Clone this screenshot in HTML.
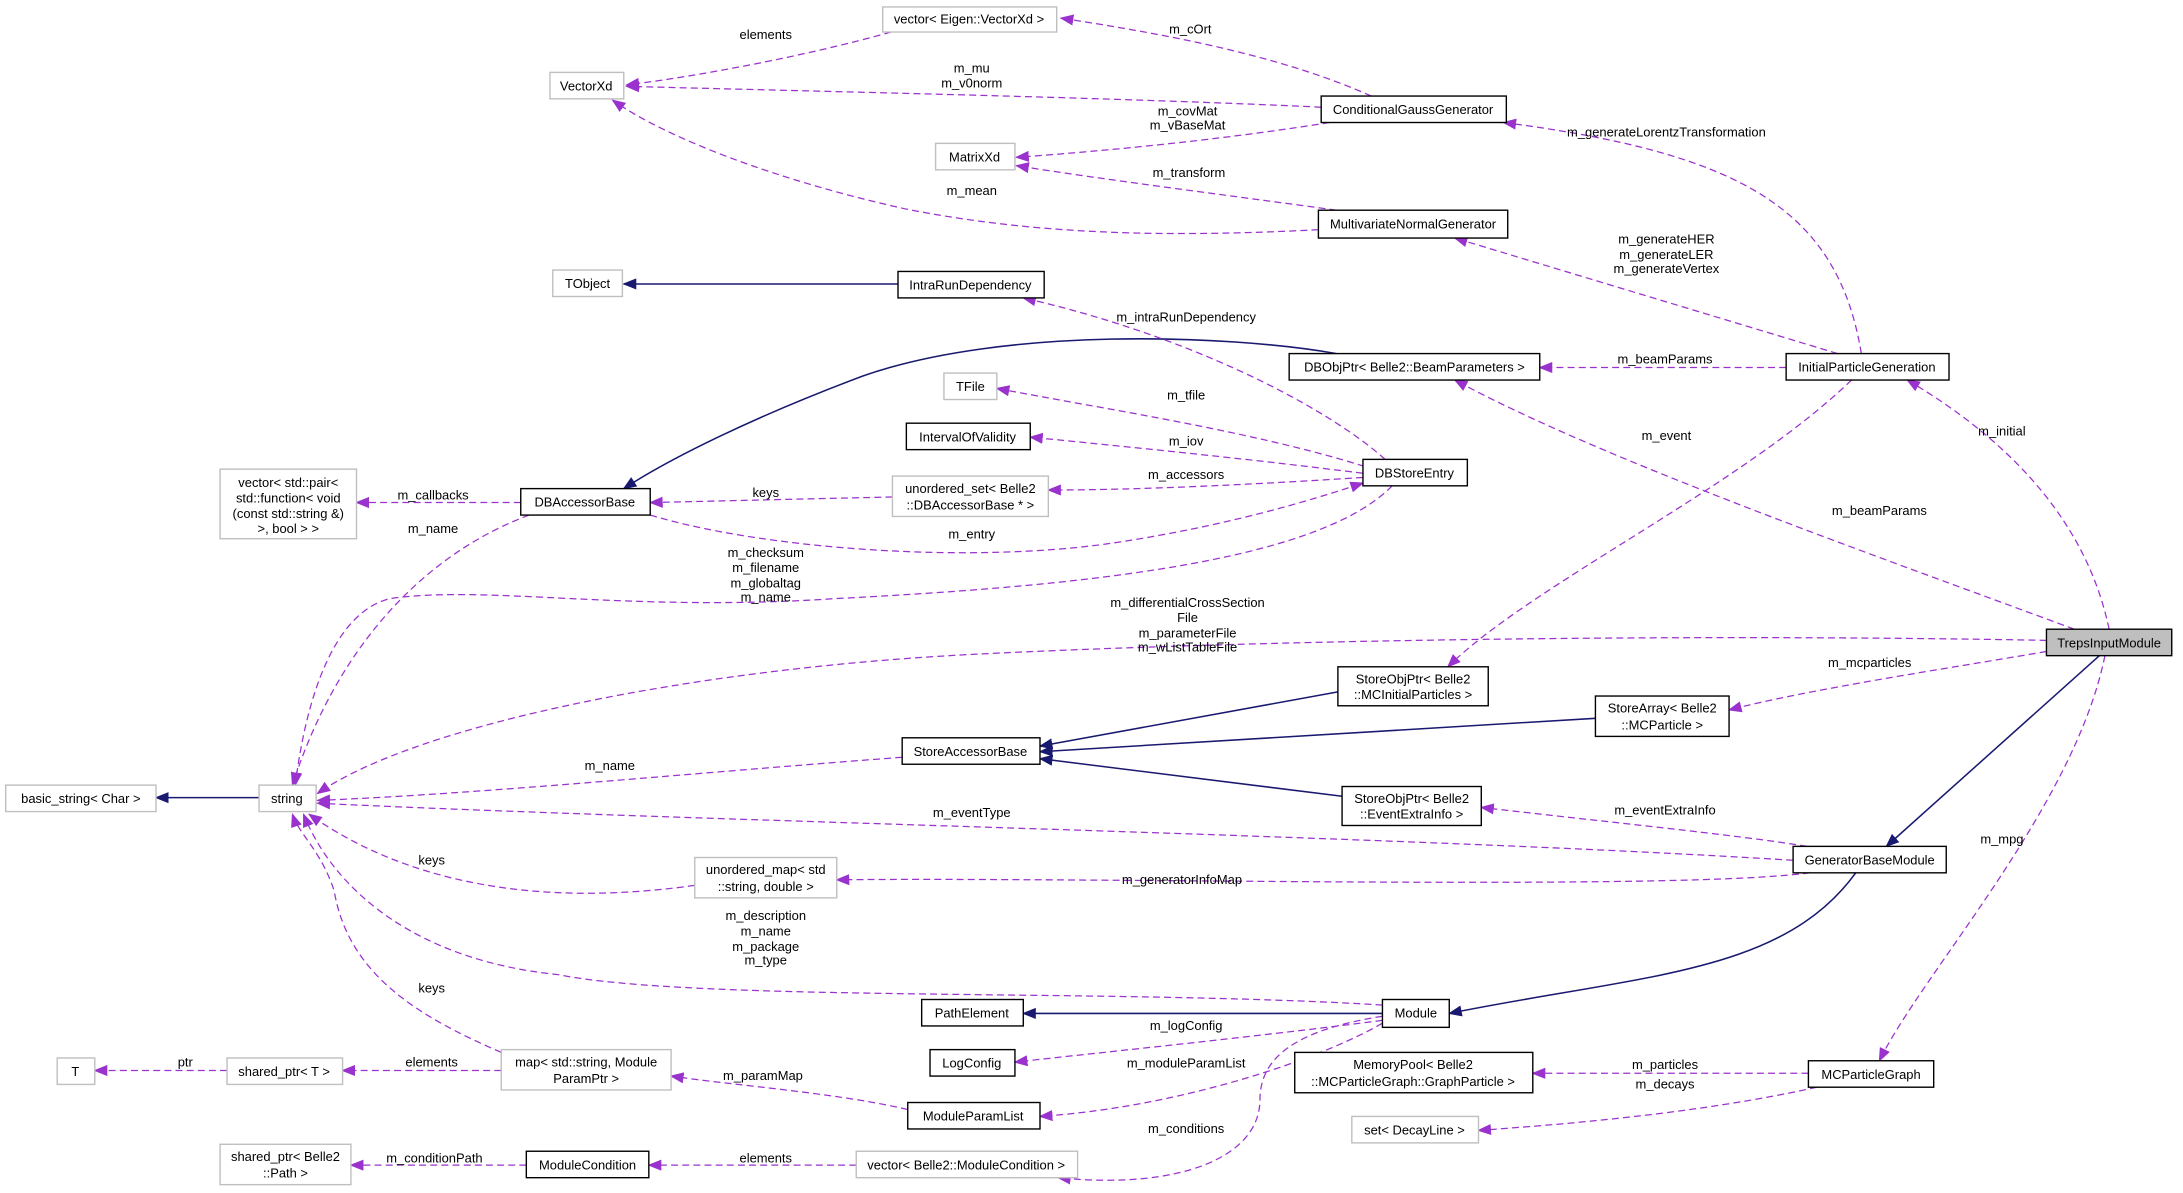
<!DOCTYPE html>
<html><head><meta charset="utf-8"><style>
html,body{margin:0;padding:0;background:#fff;}
svg{display:block;}
text{font-family:"Liberation Sans",sans-serif;font-size:9.3px;fill:#000;}
.e{fill:none;stroke:#9a32cd;stroke-width:0.9;stroke-dasharray:5,3;}
.n{fill:none;stroke:#191970;stroke-width:1.1;}
.b{fill:#fff;stroke:#000;stroke-width:1;}
.g{fill:#fff;stroke:#bfbfbf;stroke-width:1;}
</style></head><body>
<svg width="2183" height="1193" viewBox="0 0 1568 857" xmlns="http://www.w3.org/2000/svg">
<defs>
<marker id="p" markerWidth="10" markerHeight="8" refX="9" refY="4" orient="auto" markerUnits="userSpaceOnUse"><path d="M0,0 L10,4 L0,8 z" fill="#9a32cd"/></marker>
<marker id="v" markerWidth="10" markerHeight="8" refX="9" refY="4" orient="auto" markerUnits="userSpaceOnUse"><path d="M0,0 L10,4 L0,8 z" fill="#191970"/></marker>
</defs>
<g>
<path class="e" marker-end="url(#p)" d="M640 23 C580 40 500 55 450 61"/>
<path class="e" marker-end="url(#p)" d="M949 77 C800 70 600 66 450 62"/>
<path class="e" marker-end="url(#p)" d="M985 69 C920 40 840 25 762 13"/>
<path class="e" marker-end="url(#p)" d="M955 88 C880 100 800 108 730 113"/>
<path class="e" marker-end="url(#p)" d="M960 151 C880 140 800 130 730 119"/>
<path class="e" marker-end="url(#p)" d="M947 165 C850 170 750 170 650 150 C560 130 480 100 440 72"/>
<path class="n" marker-end="url(#v)" d="M645 204 L448 204"/>
<path class="n" marker-end="url(#v)" d="M960 254 C880 240 720 235 620 270 C540 300 480 330 448 351"/>
<path class="e" marker-end="url(#p)" d="M995 330 C950 290 850 240 735 214"/>
<path class="e" marker-end="url(#p)" d="M980 335 C900 310 800 295 716 279"/>
<path class="e" marker-end="url(#p)" d="M979 340 C900 330 820 322 740 314"/>
<path class="e" marker-end="url(#p)" d="M979 343 C900 348 820 352 753 352"/>
<path class="e" marker-end="url(#p)" d="M641 357 L467 361"/>
<path class="e" marker-end="url(#p)" d="M467 370 C550 395 700 405 800 390 C880 378 940 360 979 347"/>
<path class="e" marker-end="url(#p)" d="M374 361 L256 361"/>
<path class="e" marker-end="url(#p)" d="M380 370 C300 400 240 470 210 564"/>
<path class="e" marker-end="url(#p)" d="M1000 349 C950 400 800 420 600 430 C450 440 350 420 280 430 C240 440 220 500 212 564"/>
<path class="e" marker-end="url(#p)" d="M1337 254 C1320 150 1250 110 1080 88"/>
<path class="e" marker-end="url(#p)" d="M1320 254 L1045 171"/>
<path class="e" marker-end="url(#p)" d="M1283 264 L1106 264"/>
<path class="e" marker-end="url(#p)" d="M1330 273 C1250 350 1100 420 1040 479"/>
<path class="e" marker-end="url(#p)" d="M1490 452 C1350 400 1150 330 1045 273"/>
<path class="e" marker-end="url(#p)" d="M1515 452 C1500 380 1450 320 1370 273"/>
<path class="e" marker-end="url(#p)" d="M1470 460 C1200 455 900 460 700 470 C500 480 300 520 228 570"/>
<path class="e" marker-end="url(#p)" d="M1470 468 C1400 480 1300 495 1242 510"/>
<path class="n" marker-end="url(#v)" d="M1508 471 L1355 608"/>
<path class="e" marker-end="url(#p)" d="M1512 471 C1490 580 1380 700 1350 762"/>
<path class="n" marker-end="url(#v)" d="M961 497 L747 536"/>
<path class="n" marker-end="url(#v)" d="M1146 516 L747 540"/>
<path class="n" marker-end="url(#v)" d="M964 572 L747 545"/>
<path class="e" marker-end="url(#p)" d="M648 544 C500 555 350 570 228 575"/>
<path class="n" marker-end="url(#v)" d="M186 573 L112 573"/>
<path class="e" marker-end="url(#p)" d="M1298 608 C1250 600 1150 590 1064 580"/>
<path class="e" marker-end="url(#p)" d="M1288 618 C1000 600 500 590 228 577"/>
<path class="e" marker-end="url(#p)" d="M1300 627 C1200 640 800 630 601 632"/>
<path class="n" marker-end="url(#v)" d="M1333 627 C1280 700 1180 700 1041 728"/>
<path class="e" marker-end="url(#p)" d="M499 636 C400 650 300 640 222 585"/>
<path class="e" marker-end="url(#p)" d="M993 722 C800 710 500 720 400 700 C300 690 240 640 218 585"/>
<path class="n" marker-end="url(#v)" d="M993 728 L735 728"/>
<path class="e" marker-end="url(#p)" d="M993 733 C900 745 800 755 729 763"/>
<path class="e" marker-end="url(#p)" d="M993 735 C950 760 850 795 747 802"/>
<path class="e" marker-end="url(#p)" d="M993 730 C930 740 905 760 905 790 C905 830 850 855 760 846"/>
<path class="e" marker-end="url(#p)" d="M360 756 C300 730 250 700 240 640 C230 610 215 600 210 585"/>
<path class="e" marker-end="url(#p)" d="M360 769 L246 769"/>
<path class="e" marker-end="url(#p)" d="M163 769 L68 769"/>
<path class="e" marker-end="url(#p)" d="M652 797 C600 785 530 780 482 773"/>
<path class="e" marker-end="url(#p)" d="M615 837 L466 837"/>
<path class="e" marker-end="url(#p)" d="M378 837 L252 837"/>
<path class="e" marker-end="url(#p)" d="M1299 771 L1101 771"/>
<path class="e" marker-end="url(#p)" d="M1305 781 C1220 800 1120 808 1062 812"/>
</g>
<g text-anchor="middle">
<text x="550" y="28">elements</text>
<text x="698" y="52">m_mu</text><text x="698" y="63">m_v0norm</text>
<text x="855" y="24">m_cOrt</text>
<text x="853" y="83">m_covMat</text><text x="853" y="93">m_vBaseMat</text>
<text x="854" y="127">m_transform</text>
<text x="698" y="140">m_mean</text>
<text x="852" y="231">m_intraRunDependency</text>
<text x="852" y="287">m_tfile</text>
<text x="852" y="320">m_iov</text>
<text x="852" y="344">m_accessors</text>
<text x="550" y="357">keys</text>
<text x="698" y="387">m_entry</text>
<text x="311" y="359">m_callbacks</text>
<text x="311" y="383">m_name</text>
<text x="550" y="400">m_checksum</text><text x="550" y="411">m_filename</text><text x="550" y="422">m_globaltag</text><text x="550" y="432">m_name</text>
<text x="1197" y="98">m_generateLorentzTransformation</text>
<text x="1197" y="175">m_generateHER</text><text x="1197" y="186">m_generateLER</text><text x="1197" y="196">m_generateVertex</text>
<text x="1196" y="261">m_beamParams</text>
<text x="1197" y="316">m_event</text>
<text x="1350" y="370">m_beamParams</text>
<text x="1438" y="313">m_initial</text>
<text x="853" y="436">m_differentialCrossSection</text><text x="853" y="447">File</text><text x="853" y="458">m_parameterFile</text><text x="853" y="468">m_wListTableFile</text>
<text x="1343" y="479">m_mcparticles</text>
<text x="1438" y="606">m_mpg</text>
<text x="438" y="553">m_name</text>
<text x="1196" y="585">m_eventExtraInfo</text>
<text x="698" y="587">m_eventType</text>
<text x="849" y="635">m_generatorInfoMap</text>
<text x="310" y="621">keys</text>
<text x="550" y="661">m_description</text><text x="550" y="672">m_name</text><text x="550" y="683">m_package</text><text x="550" y="693">m_type</text>
<text x="852" y="740">m_logConfig</text>
<text x="852" y="767">m_moduleParamList</text>
<text x="852" y="814">m_conditions</text>
<text x="310" y="713">keys</text>
<text x="310" y="766">elements</text>
<text x="133" y="766">ptr</text>
<text x="548" y="776">m_paramMap</text>
<text x="550" y="835">elements</text>
<text x="312" y="835">m_conditionPath</text>
<text x="1196" y="768">m_particles</text>
<text x="1196" y="782">m_decays</text>
</g>
<g text-anchor="middle">
<rect class="g" x="634" y="5" width="125" height="18"/><text x="696" y="17">vector&lt; Eigen::VectorXd &gt;</text>
<rect class="g" x="395" y="52" width="53" height="19"/><text x="421" y="65">VectorXd</text>
<rect class="g" x="672" y="103" width="57" height="19"/><text x="700" y="116">MatrixXd</text>
<rect class="b" x="949" y="69" width="133" height="19"/><text x="1015" y="82">ConditionalGaussGenerator</text>
<rect class="b" x="947" y="151" width="136" height="20"/><text x="1015" y="164">MultivariateNormalGenerator</text>
<rect class="g" x="397" y="194" width="50" height="19"/><text x="422" y="207">TObject</text>
<rect class="b" x="645" y="195" width="105" height="19"/><text x="697" y="208">IntraRunDependency</text>
<rect class="b" x="926" y="254" width="180" height="19"/><text x="1016" y="267">DBObjPtr&lt; Belle2::BeamParameters &gt;</text>
<rect class="b" x="1283" y="254" width="117" height="19"/><text x="1341" y="267">InitialParticleGeneration</text>
<rect class="g" x="678" y="268" width="38" height="19"/><text x="697" y="281">TFile</text>
<rect class="b" x="651" y="304" width="89" height="19"/><text x="695" y="317">IntervalOfValidity</text>
<rect class="g" x="158" y="337" width="98" height="50"/><text x="207" y="350">vector&lt; std::pair&lt;</text><text x="207" y="361">std::function&lt; void</text><text x="207" y="372">(const std::string &amp;)</text><text x="207" y="383">&gt;, bool &gt; &gt;</text>
<rect class="b" x="374" y="351" width="93" height="19"/><text x="420" y="364">DBAccessorBase</text>
<rect class="g" x="641" y="342" width="112" height="29"/><text x="697" y="354">unordered_set&lt; Belle2</text><text x="697" y="366">::DBAccessorBase * &gt;</text>
<rect class="b" x="979" y="330" width="75" height="19"/><text x="1016" y="343">DBStoreEntry</text>
<rect x="1470" y="452" width="90" height="19" fill="#bfbfbf" stroke="#000"/><text x="1515" y="465">TrepsInputModule</text>
<rect class="b" x="961" y="479" width="108" height="28"/><text x="1015" y="491">StoreObjPtr&lt; Belle2</text><text x="1015" y="502">::MCInitialParticles &gt;</text>
<rect class="b" x="1146" y="500" width="96" height="29"/><text x="1194" y="512">StoreArray&lt; Belle2</text><text x="1194" y="524">::MCParticle &gt;</text>
<rect class="b" x="648" y="530" width="99" height="19"/><text x="697" y="543">StoreAccessorBase</text>
<rect class="g" x="4" y="564" width="108" height="19"/><text x="58" y="577">basic_string&lt; Char &gt;</text>
<rect class="g" x="186" y="564" width="41" height="19"/><text x="206" y="577">string</text>
<rect class="b" x="964" y="565" width="100" height="28"/><text x="1014" y="577">StoreObjPtr&lt; Belle2</text><text x="1014" y="588">::EventExtraInfo &gt;</text>
<rect class="b" x="1288" y="608" width="110" height="19"/><text x="1343" y="621">GeneratorBaseModule</text>
<rect class="g" x="499" y="616" width="102" height="29"/><text x="550" y="628">unordered_map&lt; std</text><text x="550" y="640">::string, double &gt;</text>
<rect class="b" x="662" y="718" width="73" height="19"/><text x="698" y="731">PathElement</text>
<rect class="b" x="993" y="718" width="48" height="20"/><text x="1017" y="731">Module</text>
<rect class="b" x="668" y="754" width="61" height="19"/><text x="698" y="767">LogConfig</text>
<rect class="b" x="930" y="756" width="171" height="29"/><text x="1015" y="768">MemoryPool&lt; Belle2</text><text x="1015" y="780">::MCParticleGraph::GraphParticle &gt;</text>
<rect class="b" x="1299" y="762" width="90" height="19"/><text x="1344" y="775">MCParticleGraph</text>
<rect class="g" x="41" y="760" width="27" height="19"/><text x="54" y="773">T</text>
<rect class="g" x="163" y="760" width="83" height="19"/><text x="204" y="773">shared_ptr&lt; T &gt;</text>
<rect class="g" x="360" y="754" width="122" height="29"/><text x="421" y="766">map&lt; std::string, Module</text><text x="421" y="778">ParamPtr &gt;</text>
<rect class="b" x="652" y="792" width="95" height="19"/><text x="699" y="805">ModuleParamList</text>
<rect class="g" x="971" y="802" width="91" height="19"/><text x="1016" y="815">set&lt; DecayLine &gt;</text>
<rect class="g" x="158" y="822" width="94" height="29"/><text x="205" y="834">shared_ptr&lt; Belle2</text><text x="205" y="846">::Path &gt;</text>
<rect class="b" x="378" y="827" width="88" height="19"/><text x="422" y="840">ModuleCondition</text>
<rect class="g" x="615" y="827" width="159" height="19"/><text x="694" y="840">vector&lt; Belle2::ModuleCondition &gt;</text>
</g>
</svg>
</body></html>
